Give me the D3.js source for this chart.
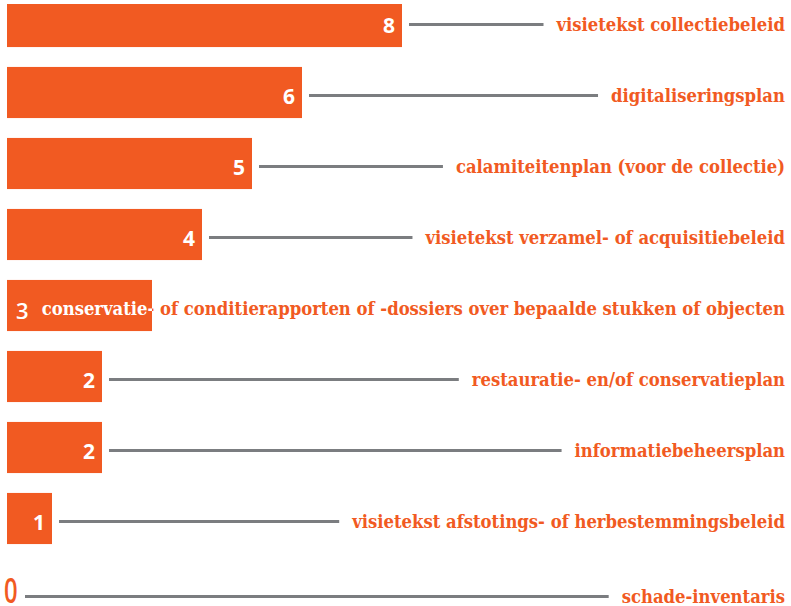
<!DOCTYPE html>
<html>
<head>
<meta charset="utf-8">
<script src="https://cdn.jsdelivr.net/npm/d3@7"></script>
<style>
  body { margin: 0; background: #fff; }
  svg { display: block; }
</style>
</head>
<body>
<svg id="chart"></svg>
<script>
var categories = [
    "visietekst collectiebeleid",
    "digitaliseringsplan",
    "calamiteitenplan (voor de collectie)",
    "visietekst verzamel- of acquisitiebeleid",
    "conservatie- of conditierapporten of -dossiers over bepaalde stukken of objecten",
    "restauratie- en/of conservatieplan",
    "informatiebeheersplan",
    "visietekst afstotings- of herbestemmingsbeleid",
    "schade-inventaris"
];
var values = [8, 6, 5, 4, 3, 2, 2, 1, 0];

var orange = "#f15a22", grey = "#7b7d80";
var labelFont = "'DejaVu Serif Condensed', 'DejaVu Serif', serif";
var numFont = "'Open Sans', sans-serif";
var labelSize = 18.3;

var svgWidth = 791, svgHeight = 606;
var svg = d3.select("#chart").attr("width", svgWidth).attr("height", svgHeight);

var rows = categories.map(function(c, i) { return { name: c, value: values[i], idx: i }; });

var x = d3.scaleLinear().domain([0, 8]).range([2, 402]);
var y = d3.scaleBand()
    .domain(d3.range(categories.length))
    .range([-14, 625])
    .paddingInner(0.28)
    .paddingOuter(0.14);

// the bars are cut off at the top left of the frame
var frameLeft = 7, frameTop = 4;
svg.append("clipPath").attr("id", "frame-clip")
    .append("rect").attr("x", frameLeft).attr("y", frameTop)
    .attr("width", svgWidth).attr("height", svgHeight);

var labelRight = 785;

var g = svg.selectAll("g.row").data(rows).enter().append("g").attr("class", "row");

g.each(function(d) {
    var row = d3.select(this);
    var cy = y(d.idx) + y.bandwidth() / 2;
    var lineY = cy + 3;
    var barEnd = x(d.value);

    var label = row.append("text")
        .attr("x", labelRight)
        .attr("y", lineY + 6.5)
        .attr("text-anchor", "end")
        .attr("fill", orange)
        .attr("font-family", labelFont)
        .attr("font-weight", "bold")
        .attr("font-size", labelSize)
        .text(d.name);
    var labelStart = labelRight - label.node().getComputedTextLength();

    if (d.value > 0) {
        row.append("rect")
            .attr("clip-path", "url(#frame-clip)")
            .attr("x", x(0))
            .attr("y", y(d.idx))
            .attr("width", barEnd - x(0))
            .attr("height", y.bandwidth())
            .attr("fill", orange);

        var overlaps = labelStart < barEnd + 10;
        if (overlaps) {
            // white copy of the label where it runs over the bar
            var cid = "bar-clip-" + d.idx;
            row.append("clipPath").attr("id", cid)
                .append("rect")
                .attr("x", x(0)).attr("y", y(d.idx))
                .attr("width", barEnd - x(0)).attr("height", y.bandwidth());
            row.append("text")
                .attr("clip-path", "url(#" + cid + ")")
                .attr("x", labelRight)
                .attr("y", lineY + 6.5)
                .attr("text-anchor", "end")
                .attr("fill", "#fff")
                .attr("font-family", labelFont)
                .attr("font-weight", "bold")
                .attr("font-size", labelSize)
                .text(d.name);
            row.append("text")
                .attr("x", frameLeft + 9)
                .attr("y", cy + 13)
                .attr("fill", "#fff")
                .attr("font-family", numFont)
                .attr("font-weight", 600)
                .attr("font-size", 22)
                .text(d.value);
        } else {
            row.append("text")
                .attr("x", barEnd - 7)
                .attr("y", cy + 11.5)
                .attr("text-anchor", "end")
                .attr("fill", "#fff")
                .attr("font-family", numFont)
                .attr("font-weight", "bold")
                .attr("font-size", 21)
                .text(d.value);
            row.append("line")
                .attr("x1", barEnd + 7)
                .attr("x2", labelStart - 13)
                .attr("y1", lineY).attr("y2", lineY)
                .attr("stroke", grey)
                .attr("stroke-width", 3);
        }
    } else {
        var zeroY = lineY + 4;
        row.append("text")
            .attr("transform", "translate(" + (x(0) + 2) + "," + (zeroY + 6.5) + ") scale(0.68,1)")
            .attr("fill", orange)
            .attr("font-family", numFont)
            .attr("font-weight", 600)
            .attr("font-size", 35)
            .text(d.value);
        label.attr("y", zeroY + 6.5);
        row.append("line")
            .attr("x1", x(0) + 23)
            .attr("x2", labelStart - 13)
            .attr("y1", zeroY).attr("y2", zeroY)
            .attr("stroke", grey)
            .attr("stroke-width", 3);
    }
});
</script>
</body>
</html>
